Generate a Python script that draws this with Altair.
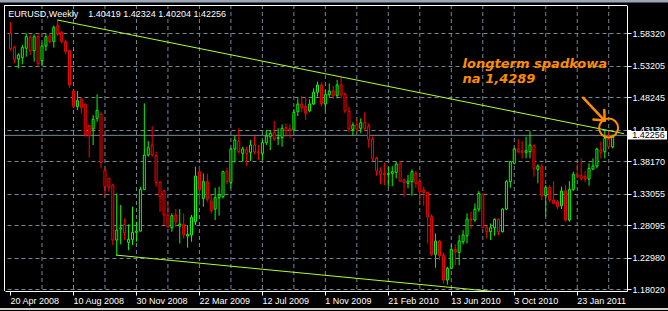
import altair as alt
import pandas as pd

# ---------------- data (EURUSD weekly, bar index 0 = week of 20 Apr 2008) ----------------
opens = [
    1.5830, 1.5611, 1.5428, 1.5449, 1.5596, 1.5769, 1.5559, 1.5779, 1.5401, 1.5632,
    1.5790, 1.5701, 1.5953, 1.5848, 1.5701, 1.5559, 1.4924, 1.4677, 1.4798, 1.4714,
    1.4378, 1.4325, 1.4493, 1.4560, 1.3680, 1.3548, 1.3443, 1.2577, 1.2750, 1.2824,
    1.2540, 1.2587, 1.2698, 1.2719, 1.3375, 1.3916, 1.4073, 1.3905, 1.3485, 1.3349,
    1.2971, 1.2771, 1.2971, 1.2797, 1.2824, 1.2640, 1.2656, 1.2866, 1.3653, 1.3233,
    1.3500, 1.3191, 1.3065, 1.3244, 1.3260, 1.3653, 1.3485, 1.4010, 1.4136, 1.3942,
    1.3994, 1.3958, 1.4073, 1.3968, 1.3942, 1.4110, 1.4204, 1.4273, 1.4178, 1.4194,
    1.4346, 1.4325, 1.4309, 1.4598, 1.4719, 1.4680, 1.4609, 1.4719, 1.4903, 1.5018,
    1.4719, 1.4866, 1.4924, 1.4850, 1.5018, 1.4871, 1.4609, 1.4320, 1.4388, 1.4336,
    1.4425, 1.4362, 1.4162, 1.3863, 1.3664, 1.3627, 1.3611, 1.3627, 1.3643, 1.3774,
    1.3522, 1.3470, 1.3496, 1.3627, 1.3496, 1.3364, 1.3328, 1.2944, 1.2351, 1.2561,
    1.2340, 1.1947, 1.2131, 1.2430, 1.2383, 1.2551, 1.2645, 1.2908, 1.2892, 1.3065,
    1.3296, 1.2771, 1.2708, 1.2771, 1.2902, 1.2708, 1.3065, 1.3496, 1.3785, 1.4010,
    1.3978, 1.3958, 1.3968, 1.4063, 1.3690, 1.3732, 1.3275, 1.3406, 1.3207, 1.3181,
    1.3118, 1.3349, 1.2892, 1.3375, 1.3601, 1.3590, 1.3574, 1.3538, 1.3695, 1.3742,
    1.3994, 1.3968, 1.4168, 1.40419]

highs = [
    1.6010, 1.5638, 1.5517, 1.5648, 1.5832, 1.5816, 1.5816, 1.5832, 1.5674, 1.5816,
    1.5832, 1.5953, 1.6042, 1.5868, 1.5727, 1.5569, 1.4939, 1.4924, 1.4808, 1.4729,
    1.4388, 1.4546, 1.4871, 1.4590, 1.3706, 1.3559, 1.3460, 1.3312, 1.3128, 1.2918,
    1.2824, 1.3102, 1.2866, 1.3417, 1.4729, 1.4136, 1.4372, 1.3968, 1.3506, 1.3364,
    1.3128, 1.2997, 1.3065, 1.3065, 1.2997, 1.2813, 1.2971, 1.3732, 1.3748, 1.3627,
    1.3620, 1.3286, 1.3401, 1.3417, 1.3669, 1.3716, 1.4031, 1.4220, 1.4336, 1.4047,
    1.4047, 1.4152, 1.4215, 1.4073, 1.4152, 1.4309, 1.4309, 1.4451, 1.4336, 1.4399,
    1.4414, 1.4399, 1.4640, 1.4808, 1.4845, 1.4834, 1.4792, 1.4966, 1.5071, 1.5060,
    1.4939, 1.5044, 1.5007, 1.5100, 1.5144, 1.4903, 1.4677, 1.4430, 1.4467, 1.4493,
    1.4588, 1.4414, 1.4204, 1.3889, 1.3721, 1.3800, 1.3732, 1.3742, 1.3811, 1.3821,
    1.3548, 1.3601, 1.3690, 1.3669, 1.3548, 1.3417, 1.3338, 1.2981, 1.2682, 1.2577,
    1.2380, 1.2157, 1.2509, 1.2509, 1.2656, 1.2734, 1.2997, 1.3023, 1.3154, 1.3349,
    1.3312, 1.2813, 1.2839, 1.2918, 1.2918, 1.3076, 1.3522, 1.3821, 1.4031, 1.4168,
    1.4136, 1.4204, 1.4294, 1.4084, 1.3769, 1.3784, 1.3443, 1.3443, 1.3506, 1.3207,
    1.3417, 1.3443, 1.3506, 1.3653, 1.3784, 1.3863, 1.3664, 1.3784, 1.3863, 1.4031,
    1.4126, 1.4309, 1.4283, 1.42324]

lows = [
    1.5560, 1.5359, 1.5281, 1.5344, 1.5464, 1.5491, 1.5386, 1.5307, 1.5317, 1.5554,
    1.5674, 1.5606, 1.5795, 1.5674, 1.5506, 1.4976, 1.4651, 1.4624, 1.4572, 1.4204,
    1.3874, 1.4073, 1.4441, 1.3706, 1.3259, 1.3338, 1.2498, 1.2335, 1.2509, 1.2577,
    1.2419, 1.2498, 1.2551, 1.2708, 1.3364, 1.3889, 1.3889, 1.3417, 1.3023, 1.2813,
    1.2761, 1.2708, 1.2787, 1.2524, 1.2603, 1.2456, 1.2551, 1.2813, 1.3128, 1.3102,
    1.3180, 1.2997, 1.2892, 1.2960, 1.3233, 1.3454, 1.3401, 1.3800, 1.3942, 1.3811,
    1.3748, 1.3821, 1.3926, 1.3837, 1.3837, 1.4073, 1.3994, 1.4136, 1.4073, 1.4047,
    1.4204, 1.4178, 1.4294, 1.4530, 1.4598, 1.4467, 1.4588, 1.4703, 1.4834, 1.4677,
    1.4624, 1.4819, 1.4798, 1.4808, 1.4808, 1.4572, 1.4273, 1.4220, 1.4283, 1.4257,
    1.4294, 1.4031, 1.3821, 1.3590, 1.3454, 1.3443, 1.3417, 1.3427, 1.3548, 1.3496,
    1.3259, 1.3391, 1.3275, 1.3401, 1.3191, 1.3118, 1.2524, 1.2330, 1.2141, 1.2262,
    1.1894, 1.1876, 1.2120, 1.2183, 1.2183, 1.2509, 1.2524, 1.2750, 1.2866, 1.3023,
    1.2761, 1.2603, 1.2577, 1.2645, 1.2656, 1.2698, 1.3050, 1.3401, 1.3769, 1.3942,
    1.3863, 1.3863, 1.3863, 1.3574, 1.3470, 1.3207, 1.2944, 1.3170, 1.3139, 1.3065,
    1.3065, 1.2866, 1.2866, 1.3349, 1.3548, 1.3511, 1.3485, 1.3433, 1.3680, 1.3706,
    1.3863, 1.3863, 1.4031, 1.40204]

closes = [
    1.5590, 1.5422, 1.5491, 1.5606, 1.5779, 1.5559, 1.5779, 1.5359, 1.5632, 1.5779,
    1.5701, 1.5926, 1.5816, 1.5701, 1.5543, 1.5018, 1.4677, 1.4771, 1.4661, 1.4231,
    1.4220, 1.4477, 1.4619, 1.3800, 1.3417, 1.3401, 1.2577, 1.2734, 1.2771, 1.2692,
    1.2587, 1.2698, 1.2719, 1.3375, 1.3916, 1.4031, 1.3916, 1.3485, 1.3259, 1.2971,
    1.2787, 1.2960, 1.2866, 1.2829, 1.2656, 1.2666, 1.2934, 1.3585, 1.3364, 1.3496,
    1.3220, 1.3039, 1.3244, 1.3286, 1.3653, 1.3496, 1.4010, 1.4152, 1.3968, 1.4010,
    1.3942, 1.4073, 1.3968, 1.3952, 1.4110, 1.4215, 1.4257, 1.4168, 1.4189, 1.4336,
    1.4299, 1.4304, 1.4588, 1.4719, 1.4661, 1.4572, 1.4719, 1.4903, 1.5018, 1.4719,
    1.4871, 1.4924, 1.4850, 1.5018, 1.4861, 1.4609, 1.4325, 1.4388, 1.4325, 1.4425,
    1.4336, 1.4162, 1.3863, 1.3664, 1.3616, 1.3611, 1.3627, 1.3653, 1.3774, 1.3506,
    1.3485, 1.3506, 1.3653, 1.3470, 1.3338, 1.3328, 1.2944, 1.2351, 1.2561, 1.2330,
    1.1947, 1.2131, 1.2430, 1.2393, 1.2561, 1.2656, 1.2908, 1.2892, 1.3065, 1.3312,
    1.2771, 1.2708, 1.2771, 1.2902, 1.2708, 1.3065, 1.3496, 1.3811, 1.4010, 1.3968,
    1.3958, 1.3984, 1.4073, 1.3706, 1.3742, 1.3275, 1.3406, 1.3207, 1.3154, 1.3102,
    1.3349, 1.2892, 1.3375, 1.3611, 1.3574, 1.3548, 1.3538, 1.3706, 1.3742, 1.4010,
    1.3958, 1.4178, 1.4047, 1.42256]

date_labels = ["20 Apr 2008", "10 Aug 2008", "30 Nov 2008", "22 Mar 2009", "12 Jul 2009",
               "1 Nov 2009", "21 Feb 2010", "13 Jun 2010", "3 Oct 2010", "23 Jan 2011"]
date_ticks = [0, 16, 32, 48, 64, 80, 96, 112, 128, 144]
vgrid_ticks = [8, 16, 24, 32, 40, 48, 56, 64, 72, 80, 88, 96, 104, 112, 120, 128, 136, 144, 152]
price_ticks = [1.18020, 1.22980, 1.28095, 1.33055, 1.38170, 1.43130, 1.48245, 1.53205, 1.58320]

# trend lines (bar index, price)
upper_i = [12, 156]
upper_p = [1.6042, 1.4252]
lower_i = [27, 130]
lower_p = [1.2340, 1.1724]

# annotation
note_lines = ["longterm spadkowa", "na 1,4289"]
note_i = [115, 115]
note_p = [1.5290, 1.5054]
circle_i = [152.1]
circle_p = [1.4341]
arrow_seg = ["a", "a", "b", "b", "c", "c"]
arrow_ord = [0, 1, 0, 1, 0, 1]
arrow_i = [145.6, 151.1, 148.25, 151.1, 151.0, 151.1]
arrow_p = [1.4818, 1.4459, 1.4475, 1.4459, 1.4625, 1.4459]

symbol = "EURUSD,Weekly"

# ---------------- chart ----------------
W, H = 622, 286
Y_MIN, Y_MAX = 1.17752, 1.62775
X_MIN, X_MAX = 0, 155.5
FONT = "Liberation Sans"
GRID = "#778899"
TREND = "#adff2f"
ORANGE = "#ff8c00"

df = pd.DataFrame({"i": list(range(len(closes))), "open": opens, "high": highs,
                   "low": lows, "close": closes})
df["dir"] = ["up" if c >= o else "down" for o, c in zip(opens, closes)]

xs = alt.Scale(domain=[X_MIN, X_MAX], nice=False, zero=False)
ys = alt.Scale(domain=[Y_MIN, Y_MAX], nice=False, zero=False)

label_expr = "[" + ",".join("'%s'" % d for d in date_labels) + "][round(datum.value/16)]"
x_axis = alt.Axis(values=date_ticks, labelExpr=label_expr, grid=False, labelAlign="left",
                  labelFlush=False, labelOffset=0, labelPadding=1, labelBaseline="top",
                  tickSize=4, tickColor="white", domainColor="white", labelColor="white",
                  labelFont=FONT, labelFontSize=9, title=None, labelOverlap=False)
y_axis = alt.Axis(orient="right", values=price_ticks, format=".5f", grid=True,
                  gridColor=GRID, gridDash=[4, 3], tickSize=4, tickColor="white",
                  domainColor="white", labelColor="white", labelFont=FONT,
                  labelFontSize=9, labelPadding=1, title=None, labelOverlap=False)


def X(f):
    return alt.X(f, type="quantitative", scale=xs, axis=x_axis)


def Y(f):
    return alt.Y(f, type="quantitative", scale=ys, axis=y_axis)


dir_stroke = alt.Stroke("dir:N", scale=alt.Scale(domain=["up", "down"],
                                                  range=["#00ff00", "#ff0000"]), legend=None)

one = pd.DataFrame({"k": [0]})

vgrid = alt.Chart(pd.DataFrame({"g": vgrid_ticks})).mark_rule(
    color=GRID, strokeDash=[4, 3], strokeWidth=1, xOffset=0.5
).encode(x=X("g"), y=alt.value(0), y2=alt.value(H))

bid = alt.Chart(pd.DataFrame({"p": [closes[-1]]})).mark_rule(
    color=GRID, strokeWidth=1
).encode(y=Y("p"), x=alt.value(0), x2=alt.value(W))

wicks = alt.Chart(df).mark_rule(strokeWidth=1, xOffset=0.5, clip=True).encode(
    x=X("i"), y=Y("low"), y2="high", stroke=dir_stroke)

bodies = alt.Chart(df).mark_bar(size=2, fill="black", strokeWidth=1, xOffset=0.5,
                                clip=True).encode(
    x=X("i"), y=Y("open"), y2="close", stroke=dir_stroke)

upper = alt.Chart(pd.DataFrame({"i": upper_i, "p": upper_p})).mark_line(
    color=TREND, strokeWidth=1, clip=True).encode(x=X("i"), y=Y("p"))
lower = alt.Chart(pd.DataFrame({"i": lower_i, "p": lower_p})).mark_line(
    color=TREND, strokeWidth=1, clip=True).encode(x=X("i"), y=Y("p"))

arrow = alt.Chart(pd.DataFrame({"seg": arrow_seg, "o": arrow_ord, "i": arrow_i,
                                "p": arrow_p})).mark_line(
    color=ORANGE, strokeWidth=2.5, strokeCap="round").encode(
    x=X("i"), y=Y("p"), detail="seg:N", order="o:Q")

circle = alt.Chart(pd.DataFrame({"i": circle_i, "p": circle_p})).mark_point(
    shape="circle", size=361, filled=False, strokeWidth=2, color=ORANGE, opacity=1
).encode(x=X("i"), y=Y("p"))

note = alt.Chart(pd.DataFrame({"i": note_i, "p": note_p, "t": note_lines})).mark_text(
    align="left", baseline="alphabetic", font="DejaVu Sans", fontStyle="italic",
    fontWeight="bold", fontSize=13, color=ORANGE
).encode(x=X("i"), y=Y("p"), text="t:N")

title1 = alt.Chart(pd.DataFrame({"t": [symbol]})).mark_text(
    align="left", baseline="alphabetic", font=FONT, fontSize=9, color="white"
).encode(x=alt.value(3.3), y=alt.value(12.3), text="t:N")

ohlc_text = " ".join("%.5f" % v for v in (opens[-1], highs[-1], lows[-1], closes[-1]))
title2 = alt.Chart(pd.DataFrame({"t": [ohlc_text]})).mark_text(
    align="left", baseline="alphabetic", font=FONT, fontSize=9, color="white"
).encode(x=alt.value(83.3), y=alt.value(12.3), text="t:N")

half = 4.25 * (Y_MAX - Y_MIN) / H
pbox = alt.Chart(pd.DataFrame({"p1": [closes[-1] + half], "p2": [closes[-1] - half]})).mark_rect(
    color="white").encode(x=alt.value(W), x2=alt.value(W + 40), y=Y("p1"), y2="p2")
ptext = alt.Chart(pd.DataFrame({"p": [closes[-1]], "t": ["%.5f" % closes[-1]]})).mark_text(
    align="left", baseline="middle", font=FONT, fontSize=9, color="black"
).encode(x=alt.value(W + 5.3), y=Y("p"), text="t:N")

left_border = alt.Chart(one).mark_rule(color="white", strokeWidth=1).encode(
    x=alt.value(-0.5), y=alt.value(0), y2=alt.value(H))
top_border = alt.Chart(one).mark_rule(color="white", strokeWidth=1).encode(
    y=alt.value(0.5), x=alt.value(0), x2=alt.value(W))
frame_top = alt.Chart(one).mark_rule(color="#9aa7b8", strokeWidth=3).encode(
    y=alt.value(-4), x=alt.value(-5), x2=alt.value(663))
frame_bottom = alt.Chart(one).mark_rule(color="#d4d0c8", strokeWidth=2).encode(
    y=alt.value(H + 18), x=alt.value(-5), x2=alt.value(663))

chart = alt.layer(
    frame_top, frame_bottom, vgrid, bid, wicks, bodies, upper, lower,
    note, arrow, circle, title1, title2, pbox, ptext, left_border, top_border
).properties(
    width=W, height=H,
    padding={"left": 5, "top": 5, "right": 41, "bottom": 20},
    autosize=alt.AutoSizeParams(type="none"),
    background="black",
).configure_view(stroke=None)

chart.save("out.html", embed_options={"renderer": "svg", "actions": False})
